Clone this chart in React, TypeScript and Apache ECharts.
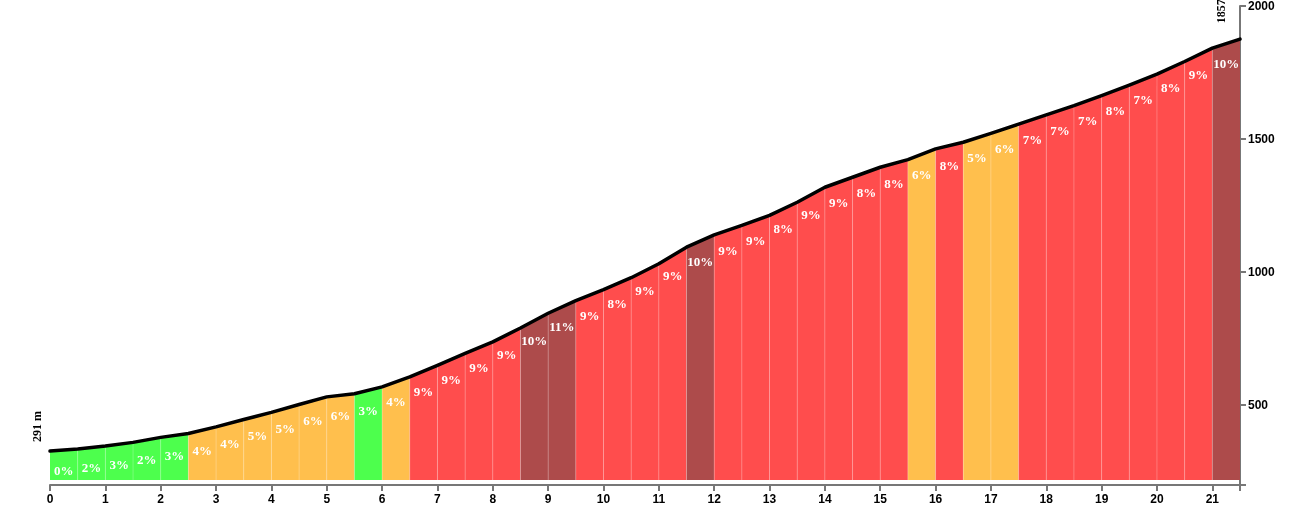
import React, { useEffect, useRef } from "react";
import * as echarts from "echarts";

// distance along the climb (km)
const distances = [
  0, 0.5, 1, 1.5, 2, 2.5, 3, 3.5, 4, 4.5, 5, 5.5, 6, 6.5, 7, 7.5, 8, 8.5, 9, 9.5, 10, 10.5,
  11, 11.5, 12, 12.5, 13, 13.5, 14, 14.5, 15, 15.5, 16, 16.5, 17, 17.5, 18, 18.5, 19, 19.5,
  20, 20.5, 21, 21.5,
];
// elevation (m) at each distance
const elevations = [
  291, 299, 310, 324, 343, 358, 383, 411, 438, 468, 497, 509, 535, 573, 617, 662, 706, 759,
  815, 863, 905, 950, 1003, 1066, 1113, 1149, 1187, 1237, 1294, 1332, 1370, 1399, 1440, 1465,
  1499, 1534, 1569, 1604, 1642, 1682, 1724, 1772, 1823, 1857,
];
// gradient (%) of each 0.5 km segment
const grades = [
  0, 2, 3, 2, 3, 4, 4, 5, 5, 6, 6, 3, 4, 9, 9, 9, 9, 10, 11, 9, 8, 9, 9, 10, 9, 9, 8, 9, 9, 8,
  8, 6, 8, 5, 6, 7, 7, 7, 8, 7, 8, 9, 10,
];
const xTickLabels = [0, 1, 2, 3, 4, 5, 6, 7, 8, 9, 10, 11, 12, 13, 14, 15, 16, 17, 18, 19, 20, 21];
const xTickMarks = [...xTickLabels, 21.5];
const yTickLabels = [500, 1000, 1500, 2000];
const yTickMarks = [200, 500, 1000, 1500, 2000];

const BASE = 181;

function gradeColor(g: number): string {
  if (g <= 3) return "rgb(77,255,77)";
  if (g <= 6) return "rgb(255,191,77)";
  if (g <= 9) return "rgb(255,77,77)";
  return "rgb(173,75,75)";
}

export default function App() {
  const ref = useRef<HTMLDivElement>(null);

  useEffect(() => {
    if (!ref.current) return;
    const chart = echarts.init(ref.current, null, { renderer: "svg" });

    const segData = grades.map((g, i) => [
      distances[i],
      distances[i + 1],
      elevations[i],
      elevations[i + 1],
      g,
    ]);
    const lineData = distances.map((d, i) => [d, elevations[i]]);
    const last = elevations.length - 1;
    const endData = [
      [distances[0], elevations[0], 0],
      [distances[last], elevations[last], 1],
    ];
    const endTexts = [`${elevations[0]} m`, `${elevations[last]} m`];

    const axisColor = "#777";
    const axisFont = {
      color: "#000",
      fontWeight: "bold" as const,
      fontSize: 12,
      fontFamily: "Liberation Sans, Arial, sans-serif",
    };

    chart.setOption({
      animation: false,
      grid: { left: 50, right: 60, top: 5, bottom: 40, containLabel: false },
      xAxis: {
        type: "value",
        min: 0,
        max: 21.5,
        interval: 1,
        axisLine: { show: true, onZero: false, lineStyle: { color: axisColor, width: 2 } },
        axisTick: {
          show: true,
          length: 6,
          customValues: xTickMarks,
          lineStyle: { color: axisColor, width: 2 },
        },
        axisLabel: {
          ...axisFont,
          margin: 8,
          customValues: xTickLabels,
          formatter: (v: number) => String(v),
        },
        splitLine: { show: false },
      },
      yAxis: [
        {
          type: "value",
          position: "right",
          min: 200,
          max: 2000,
          axisLine: { show: true, onZero: false, lineStyle: { color: axisColor, width: 2 } },
          axisTick: {
            show: true,
            length: 6,
            customValues: yTickMarks,
            lineStyle: { color: axisColor, width: 2 },
          },
          axisLabel: {
            ...axisFont,
            margin: 8,
            customValues: yTickLabels,
            formatter: (v: number) => String(v),
          },
          splitLine: { show: false },
        },
        {
          type: "value",
          show: false,
          min: 162,
          max: 1983,
          axisLine: { show: false, onZero: false },
          axisTick: { show: false },
          axisLabel: { show: false },
          splitLine: { show: false },
        },
      ],
      series: [
        {
          type: "custom",
          coordinateSystem: "cartesian2d",
          xAxisIndex: 0,
          yAxisIndex: 1,
          clip: false,
          data: segData,
          z: 1,
          renderItem: (params: any, api: any) => {
            const x0 = api.value(0);
            const x1 = api.value(1);
            const e0 = api.value(2);
            const e1 = api.value(3);
            const g = api.value(4);
            const b0 = api.coord([x0, BASE]);
            const t0 = api.coord([x0, e0]);
            const t1 = api.coord([x1, e1]);
            const b1 = api.coord([x1, BASE]);
            const mid = api.coord([(x0 + x1) / 2, (e0 + e1) / 2]);
            const children: any[] = [
              {
                type: "polygon",
                shape: { points: [b0, t0, t1, b1] },
                style: { fill: gradeColor(g), stroke: null },
              },
            ];
            if (params.dataIndex > 0) {
              children.push({
                type: "line",
                shape: { x1: b0[0], y1: b0[1], x2: t0[0], y2: t0[1] },
                style: { stroke: "rgba(255,255,255,0.22)", lineWidth: 1 },
              });
            }
            children.push({
              type: "text",
              x: mid[0],
              y: mid[1] + 20,
              style: {
                text: `${g}%`,
                fill: "#fff",
                fontSize: 13,
                fontWeight: "bold",
                fontFamily: "Liberation Serif, Times New Roman, serif",
                align: "center",
                verticalAlign: "middle",
              },
            });
            return { type: "group", children };
          },
        },
        {
          type: "line",
          xAxisIndex: 0,
          yAxisIndex: 1,
          data: lineData,
          symbol: "none",
          showSymbol: false,
          z: 3,
          lineStyle: { color: "#000", width: 3.5, join: "round", cap: "round" },
        },
        {
          type: "custom",
          coordinateSystem: "cartesian2d",
          xAxisIndex: 0,
          yAxisIndex: 1,
          clip: false,
          data: endData,
          z: 4,
          renderItem: (params: any, api: any) => {
            const p = api.coord([api.value(0), api.value(1)]);
            const isLast = api.value(2) === 1;
            const dx = isLast ? -19 : -13;
            const dy = isLast ? -16 : -9;
            return {
              type: "text",
              x: p[0] + dx,
              y: p[1] + dy,
              rotation: Math.PI / 2,
              style: {
                text: endTexts[params.dataIndex],
                fill: "#000",
                fontSize: 12,
                fontWeight: "bold",
                fontFamily: "Liberation Serif, Times New Roman, serif",
                align: "left",
                verticalAlign: "middle",
              },
            };
          },
        },
      ],
    });

    return () => {
      chart.dispose();
    };
  }, []);

  return (
    <div
      ref={ref}
      style={{ position: "fixed", left: 0, top: 0, width: 1300, height: 525 }}
    />
  );
}
